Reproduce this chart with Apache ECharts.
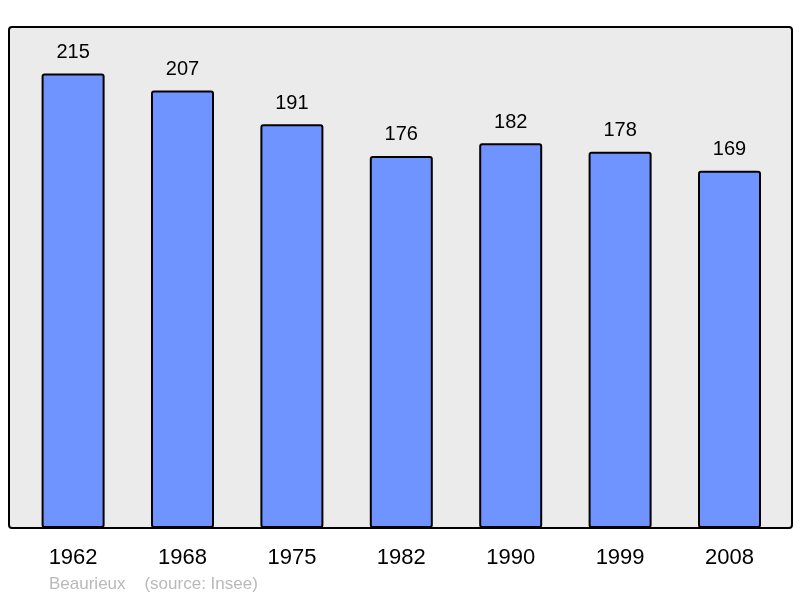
<!DOCTYPE html>
<html>
<head>
<meta charset="utf-8">
<script src="https://cdn.jsdelivr.net/npm/echarts@6/dist/echarts.min.js"></script>
<style>
html,body{margin:0;padding:0;background:#fff;}
#main{width:800px;height:598px;}
</style>
</head>
<body>
<div id="main"></div>
<script>
const categories = ['1962','1968','1975','1982','1990','1999','2008'];
const population = [215, 207, 191, 176, 182, 178, 169];
const sourceText = 'Beaurieux    (source: Insee)';

const chart = echarts.init(document.getElementById('main'), null, {renderer: 'canvas'});
chart.setOption({
  animation: false,
  backgroundColor: '#ffffff',
  textStyle: {fontFamily: 'Liberation Sans, Arial, sans-serif'},
  graphic: [
    {type: 'rect', z: -10, shape: {x: 9, y: 27, width: 783, height: 501, r: 3},
     style: {fill: '#ebebeb', stroke: '#000', lineWidth: 2}},
    {type: 'text', left: 49, top: 576,
     style: {text: sourceText, fill: '#b9b9b9', font: '17px "Liberation Sans", Arial, sans-serif'}}
  ],
  grid: {left: 18.4, right: 15.8, top: 27, bottom: 70},
  xAxis: {
    type: 'category', data: categories,
    axisLine: {show: false}, axisTick: {show: false},
    axisLabel: {color: '#000', fontSize: 22, margin: 19}
  },
  yAxis: {
    type: 'value', min: 0, max: 237,
    show: false, splitLine: {show: false}
  },
  series: [{
    type: 'bar', data: population, barWidth: 63,
    itemStyle: {color: '#7094ff', borderColor: '#000', borderWidth: 2, borderRadius: 2},
    label: {show: true, position: 'top', distance: 11, color: '#000', fontSize: 20}
  }]
});
</script>
</body>
</html>
